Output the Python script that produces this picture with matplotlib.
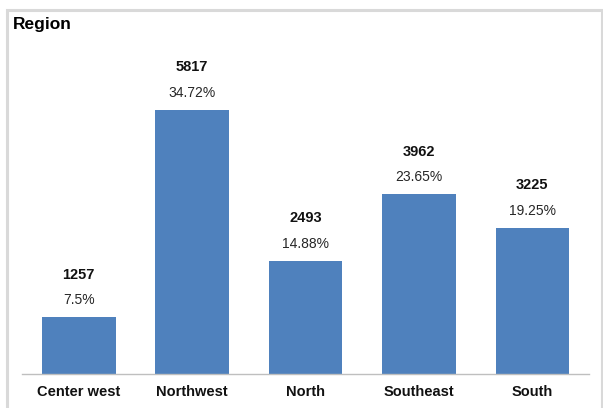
"""Bar chart of records by region with counts and shares."""
import matplotlib.pyplot as plt
from matplotlib.patches import Rectangle

regions = ["Center west", "Northwest", "North", "Southeast", "South"]
counts = [1257, 5817, 2493, 3962, 3225]
shares = ["7.5%", "34.72%", "14.88%", "23.65%", "19.25%"]

plt.rcParams["font.family"] = ["Liberation Sans", "DejaVu Sans"]

fig = plt.figure(figsize=(6.03, 4.08), dpi=100)
ax = fig.add_axes([0.0365, 0.0833, 0.9405, 0.7794])

bars = ax.bar(range(len(regions)), counts, width=0.65, color="#4F81BD")
ax.set_xlim(-0.5, len(regions) - 0.5)
ax.set_ylim(0, 7000)

for bar, n, pct in zip(bars, counts, shares):
    x = bar.get_x() + bar.get_width() / 2
    ax.annotate(pct, (x, n), xytext=(0, 12), textcoords="offset points",
                ha="center", va="center", fontsize=10, color="#262626")
    ax.annotate(str(n), (x, n), xytext=(0, 30.5), textcoords="offset points",
                ha="center", va="center", fontsize=10.5, fontweight="bold",
                color="#111111")

ax.set_xticks(range(len(regions)))
ax.set_xticklabels(regions, fontsize=10.5, fontweight="bold", color="#111111")
ax.tick_params(axis="x", length=0, pad=8)
ax.set_yticks([])
for side in ("top", "right", "left"):
    ax.spines[side].set_visible(False)
ax.spines["bottom"].set_color("#bfbfbf")
ax.spines["bottom"].set_linewidth(1)

fig.text(13 / 603, 1 - 24 / 408, "Region", fontsize=12.5, fontweight="bold",
         ha="left", va="center", color="#000000")

fig.patches.append(Rectangle((7 / 603, -0.05), 595 / 603, 1.05 - 10 / 408,
                             transform=fig.transFigure, fill=False,
                             edgecolor="#d9d9d9", linewidth=2.2))

fig.savefig("out.png", dpi=100)
